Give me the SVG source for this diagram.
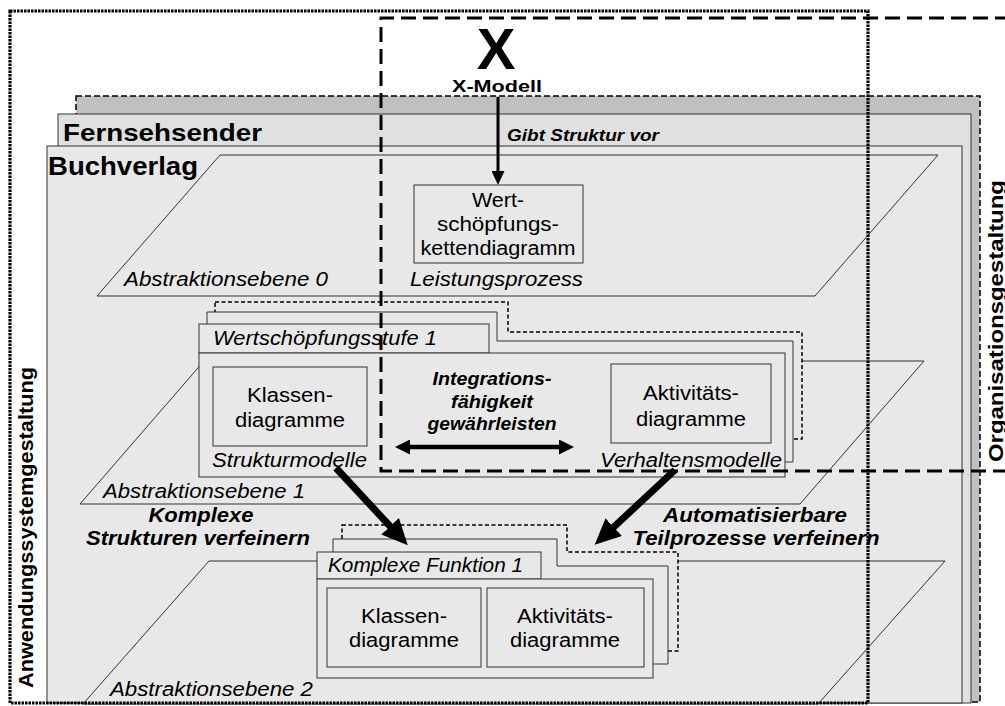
<svg xmlns="http://www.w3.org/2000/svg" width="1005" height="706" viewBox="0 0 1005 706">
  <defs>
    <style>
      .t { font-family: "Liberation Sans", Arial, Helvetica, sans-serif; fill: #000; }
      .r { font-size: 20px; }
      .i { font-size: 20px; font-style: italic; }
      .bi { font-weight: bold; font-style: italic; }
      .b { font-weight: bold; }
      .page { stroke: #333; stroke-width: 1; }
      .lvl { fill: #e8e8e8; stroke: #333; stroke-width: 1; }
      .box { fill: #e8e8e8; stroke: #333; stroke-width: 1; }
      .ghost { fill: #e8e8e8; stroke: #000; stroke-width: 1.5; stroke-dasharray: 4 2.5; }
      .dotted { fill: none; stroke: #000; stroke-width: 3.2; stroke-dasharray: 2.5 1; }
      .dashed { fill: none; stroke: #000; stroke-width: 3; stroke-dasharray: 15 7; }
      .conn { stroke: #000; fill: none; }
    </style>
    <marker id="headThick" markerUnits="userSpaceOnUse" markerWidth="26" markerHeight="24" refX="16" refY="12" orient="auto">
      <path d="M0,0 L26,12 L0,24 z" fill="#000"/>
    </marker>
    <marker id="headMid" markerUnits="userSpaceOnUse" markerWidth="15" markerHeight="15" refX="10" refY="7.5" orient="auto-start-reverse">
      <path d="M0,0 L15,7.5 L0,15 z" fill="#000"/>
    </marker>
    <marker id="headThin" markerUnits="userSpaceOnUse" markerWidth="14" markerHeight="13" refX="10" refY="6.5" orient="auto">
      <path d="M0,0 L14,6.5 L0,13 z" fill="#000"/>
    </marker>
  </defs>

  <rect x="0" y="0" width="1005" height="706" fill="#fff"/>

  <!-- organisation pages, back to front -->
  <g id="page-weitere">
    <rect x="76" y="96" width="904" height="606" fill="#c0c0c0" stroke="#000" stroke-width="1.5" stroke-dasharray="6 3"/>
  </g>
  <g id="page-fernsehsender">
    <rect class="page" x="58" y="114" width="913" height="589" fill="#e0e0e0"/>
    <text class="t b" x="63" y="141" font-size="24" textLength="199" lengthAdjust="spacingAndGlyphs">Fernsehsender</text>
  </g>
  <g id="page-buchverlag">
    <rect class="page" x="47" y="146" width="915" height="557" fill="#e8e8e8"/>
    <text class="t b" x="48" y="175" font-size="25" textLength="150" lengthAdjust="spacingAndGlyphs">Buchverlag</text>
  </g>

  <!-- abstraction levels -->
  <g id="ebene-0">
    <polygon class="lvl" points="220,155 938,155 815,296 97,296"/>
    <text class="t i" x="124" y="286" textLength="204" lengthAdjust="spacingAndGlyphs">Abstraktionsebene 0</text>
  </g>
  <g id="ebene-1">
    <polygon class="lvl" points="204,361 924,361 800,504 80,504"/>
    <text class="t i" x="103" y="498" textLength="202" lengthAdjust="spacingAndGlyphs">Abstraktionsebene 1</text>
  </g>
  <g id="ebene-2">
    <polygon class="lvl" points="209,561 945,561 818,704 83,704"/>
    <text class="t i" x="110" y="696" textLength="203" lengthAdjust="spacingAndGlyphs">Abstraktionsebene 2</text>
  </g>

  <!-- level 0: value chain diagram -->
  <g id="wertschoepfungskettendiagramm">
    <rect class="box" x="414" y="185" width="169" height="78"/>
    <text class="t r" x="498" y="207" text-anchor="middle" textLength="52" lengthAdjust="spacingAndGlyphs">Wert-</text>
    <text class="t r" x="498" y="231" text-anchor="middle" textLength="122" lengthAdjust="spacingAndGlyphs">schöpfungs-</text>
    <text class="t r" x="498" y="255" text-anchor="middle" textLength="155" lengthAdjust="spacingAndGlyphs">kettendiagramm</text>
    <text class="t i" x="410" y="286" textLength="173" lengthAdjust="spacingAndGlyphs">Leistungsprozess</text>
  </g>

  <!-- level 1: value creation stage stack -->
  <g id="wertschoepfungsstufe">
    <polygon class="ghost" points="215,302 508,302 508,332 802,332 802,439 215,439"/>
    <polygon class="box" points="207,312 497,312 497,341 793,341 793,462 207,462"/>
    <rect class="box" x="199" y="324" width="290" height="29"/>
    <rect class="box" x="199" y="353" width="586" height="124"/>
    <text class="t i" x="213" y="345" textLength="224" lengthAdjust="spacingAndGlyphs">Wertschöpfungsstufe 1</text>
    <text class="t i" x="212" y="467" textLength="155" lengthAdjust="spacingAndGlyphs">Strukturmodelle</text>
    <text class="t i" x="600" y="467" textLength="182" lengthAdjust="spacingAndGlyphs">Verhaltensmodelle</text>
    <text class="t bi" x="492" y="385" font-size="18" text-anchor="middle" textLength="119" lengthAdjust="spacingAndGlyphs">Integrations-</text>
    <text class="t bi" x="492" y="408" font-size="18" text-anchor="middle" textLength="82" lengthAdjust="spacingAndGlyphs">fähigkeit</text>
    <text class="t bi" x="492" y="430" font-size="18" text-anchor="middle" textLength="129" lengthAdjust="spacingAndGlyphs">gewährleisten</text>
  </g>
  <g id="klassendiagramme-1">
    <rect class="box" x="213" y="367" width="154" height="79"/>
    <text class="t r" x="290" y="402" text-anchor="middle" textLength="86" lengthAdjust="spacingAndGlyphs">Klassen-</text>
    <text class="t r" x="290" y="427" text-anchor="middle" textLength="110" lengthAdjust="spacingAndGlyphs">diagramme</text>
  </g>
  <g id="aktivitaetsdiagramme-1">
    <rect class="box" x="611" y="364" width="160" height="79"/>
    <text class="t r" x="691" y="400" text-anchor="middle" textLength="96" lengthAdjust="spacingAndGlyphs">Aktivitäts-</text>
    <text class="t r" x="691" y="426" text-anchor="middle" textLength="110" lengthAdjust="spacingAndGlyphs">diagramme</text>
  </g>

  <!-- level 2: complex function stack -->
  <g id="komplexe-funktion">
    <polygon class="ghost" points="342,525 567,525 567,552 678,552 678,651 342,651"/>
    <polygon class="box" points="333,539 557,539 557,566 668,566 668,664 333,664"/>
    <rect class="box" x="317" y="552" width="224" height="27"/>
    <rect class="box" x="317" y="579" width="336" height="99"/>
    <text class="t i" x="328" y="572" textLength="195" lengthAdjust="spacingAndGlyphs">Komplexe Funktion 1</text>
  </g>
  <g id="klassendiagramme-2">
    <rect class="box" x="327" y="588" width="154" height="79"/>
    <text class="t r" x="404" y="623" text-anchor="middle" textLength="86" lengthAdjust="spacingAndGlyphs">Klassen-</text>
    <text class="t r" x="404" y="647" text-anchor="middle" textLength="110" lengthAdjust="spacingAndGlyphs">diagramme</text>
  </g>
  <g id="aktivitaetsdiagramme-2">
    <rect class="box" x="487" y="588" width="157" height="79"/>
    <text class="t r" x="565" y="623" text-anchor="middle" textLength="96" lengthAdjust="spacingAndGlyphs">Aktivitäts-</text>
    <text class="t r" x="565" y="647" text-anchor="middle" textLength="110" lengthAdjust="spacingAndGlyphs">diagramme</text>
  </g>

  <!-- X-Modell -->
  <g id="x-modell">
    <text class="t b" x="496" y="69" font-size="58" text-anchor="middle">X</text>
    <text class="t b" x="497" y="92" font-size="17" text-anchor="middle" textLength="90" lengthAdjust="spacingAndGlyphs">X-Modell</text>
  </g>

  <!-- connectors and their labels -->
  <g id="connectors">
    <line class="conn" x1="498" y1="97" x2="498" y2="181" stroke-width="3" marker-end="url(#headThin)"/>
    <text class="t bi" x="507" y="141" font-size="17" textLength="152" lengthAdjust="spacingAndGlyphs">Gibt Struktur vor</text>

    <line class="conn" x1="400" y1="447" x2="569" y2="447" stroke-width="4.5" marker-start="url(#headMid)" marker-end="url(#headMid)"/>

    <line class="conn" x1="336" y1="468" x2="401" y2="538" stroke-width="7" marker-end="url(#headThick)"/>
    <text class="t bi" x="201" y="522" font-size="20" text-anchor="middle" textLength="105" lengthAdjust="spacingAndGlyphs">Komplexe</text>
    <text class="t bi" x="198" y="545" font-size="20" text-anchor="middle" textLength="224" lengthAdjust="spacingAndGlyphs">Strukturen verfeinern</text>

    <line class="conn" x1="675" y1="470" x2="602" y2="538" stroke-width="7" marker-end="url(#headThick)"/>
    <text class="t bi" x="755" y="522" font-size="20" text-anchor="middle" textLength="184" lengthAdjust="spacingAndGlyphs">Automatisierbare</text>
    <text class="t bi" x="756" y="545" font-size="20" text-anchor="middle" textLength="247" lengthAdjust="spacingAndGlyphs">Teilprozesse verfeinern</text>
  </g>

  <!-- design scopes -->
  <g id="anwendungssystemgestaltung">
    <rect class="dotted" x="10" y="11" width="858" height="692"/>
    <text class="t b" font-size="20" transform="translate(33,688) rotate(-90)" textLength="321" lengthAdjust="spacingAndGlyphs">Anwendungssystemgestaltung</text>
  </g>
  <g id="organisationsgestaltung">
    <path class="dashed" d="M1010,18 H381 V471 H1010"/>
    <text class="t b" font-size="20" transform="translate(1003,462) rotate(-90)" textLength="282" lengthAdjust="spacingAndGlyphs">Organisationsgestaltung</text>
  </g>
</svg>
